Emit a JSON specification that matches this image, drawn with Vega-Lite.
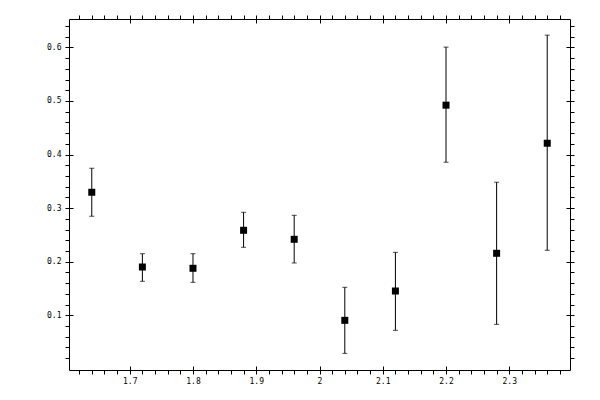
{
  "$schema": "https://vega.github.io/schema/vega-lite/v6.json",
  "autosize": {"type": "none"},
  "padding": {"left": 69, "top": 19, "right": 30, "bottom": 30},
  "width": 501,
  "height": 351,
  "background": "white",
  "config": {
    "view": {"stroke": null},
    "axis": {
      "grid": false,
      "title": null,
      "domainColor": "black",
      "domainWidth": 1,
      "tickColor": "black",
      "tickWidth": 1,
      "labelColor": "black",
      "labelFont": "DejaVu Sans Mono",
      "labelFontSize": 8,
      "labelFlush": false,
      "labelOverlap": false
    }
  },
  "data": {
    "values": [
      {"x": 1.64, "y": 0.3297, "lo": 0.2849, "hi": 0.3745},
      {"x": 1.72, "y": 0.1902, "lo": 0.1635, "hi": 0.2150},
      {"x": 1.80, "y": 0.1878, "lo": 0.1616, "hi": 0.2150},
      {"x": 1.88, "y": 0.2587, "lo": 0.2270, "hi": 0.2923},
      {"x": 1.96, "y": 0.2419, "lo": 0.1977, "hi": 0.2867},
      {"x": 2.04, "y": 0.0907, "lo": 0.0290, "hi": 0.1523},
      {"x": 2.12, "y": 0.1454, "lo": 0.0720, "hi": 0.2176},
      {"x": 2.20, "y": 0.4922, "lo": 0.3857, "hi": 0.6005},
      {"x": 2.28, "y": 0.2158, "lo": 0.0832, "hi": 0.3484},
      {"x": 2.36, "y": 0.4212, "lo": 0.2214, "hi": 0.6229}
    ]
  },
  "resolve": {"axis": {"x": "independent", "y": "independent"}},
  "layer": [
    {
      "mark": {"type": "rule", "color": "black", "strokeWidth": 1},
      "encoding": {
        "x": {"field": "x", "type": "quantitative",
          "scale": {"domain": [1.604, 2.396], "nice": false, "zero": false},
          "axis": {"orient": "bottom", "offset": -4, "tickSize": 8, "domain": false,
            "values": [1.7, 1.8, 1.9, 2.0, 2.1, 2.2, 2.3], "format": "~g", "labelPadding": 3}},
        "y": {"field": "lo", "type": "quantitative",
          "scale": {"domain": [-0.002, 0.653], "nice": false, "zero": false},
          "axis": {"orient": "left", "offset": -4, "tickSize": 8, "domain": false,
            "values": [0.1, 0.2, 0.3, 0.4, 0.5, 0.6], "format": "~g", "labelPadding": 4}},
        "y2": {"field": "hi"}
      }
    },
    {
      "mark": {"type": "tick", "orient": "horizontal", "color": "black", "size": 5, "thickness": 1},
      "encoding": {
        "x": {"field": "x", "type": "quantitative",
          "scale": {"domain": [1.604, 2.396], "nice": false, "zero": false},
          "axis": {"orient": "bottom", "tickSize": 4, "domain": true, "labels": false,
            "values": [1.62, 1.64, 1.66, 1.68, 1.72, 1.74, 1.76, 1.78, 1.82, 1.84, 1.86, 1.88, 1.92, 1.94, 1.96, 1.98, 2.02, 2.04, 2.06, 2.08, 2.12, 2.14, 2.16, 2.18, 2.22, 2.24, 2.26, 2.28, 2.32, 2.34, 2.36, 2.38]}},
        "y": {"field": "hi", "type": "quantitative",
          "scale": {"domain": [-0.002, 0.653], "nice": false, "zero": false},
          "axis": {"orient": "left", "tickSize": 4, "domain": true, "labels": false,
            "values": [0.02, 0.04, 0.06, 0.08, 0.12, 0.14, 0.16, 0.18, 0.22, 0.24, 0.26, 0.28, 0.32, 0.34, 0.36, 0.38, 0.42, 0.44, 0.46, 0.48, 0.52, 0.54, 0.56, 0.58, 0.62, 0.64]}}
      }
    },
    {
      "mark": {"type": "tick", "orient": "horizontal", "color": "black", "size": 5, "thickness": 1},
      "encoding": {
        "x": {"field": "x", "type": "quantitative",
          "scale": {"domain": [1.604, 2.396], "nice": false, "zero": false},
          "axis": {"orient": "top", "offset": -4, "tickSize": 8, "domain": false, "labels": false,
            "values": [1.7, 1.8, 1.9, 2.0, 2.1, 2.2, 2.3]}},
        "y": {"field": "lo", "type": "quantitative",
          "scale": {"domain": [-0.002, 0.653], "nice": false, "zero": false},
          "axis": {"orient": "right", "offset": -4, "tickSize": 8, "domain": false, "labels": false,
            "values": [0.1, 0.2, 0.3, 0.4, 0.5, 0.6]}}
      }
    },
    {
      "mark": {"type": "square", "color": "black", "filled": true, "opacity": 1, "size": 49},
      "encoding": {
        "x": {"field": "x", "type": "quantitative",
          "scale": {"domain": [1.604, 2.396], "nice": false, "zero": false},
          "axis": {"orient": "top", "tickSize": 4, "domain": true, "labels": false,
            "values": [1.62, 1.64, 1.66, 1.68, 1.72, 1.74, 1.76, 1.78, 1.82, 1.84, 1.86, 1.88, 1.92, 1.94, 1.96, 1.98, 2.02, 2.04, 2.06, 2.08, 2.12, 2.14, 2.16, 2.18, 2.22, 2.24, 2.26, 2.28, 2.32, 2.34, 2.36, 2.38]}},
        "y": {"field": "y", "type": "quantitative",
          "scale": {"domain": [-0.002, 0.653], "nice": false, "zero": false},
          "axis": {"orient": "right", "tickSize": 4, "domain": true, "labels": false,
            "values": [0.02, 0.04, 0.06, 0.08, 0.12, 0.14, 0.16, 0.18, 0.22, 0.24, 0.26, 0.28, 0.32, 0.34, 0.36, 0.38, 0.42, 0.44, 0.46, 0.48, 0.52, 0.54, 0.56, 0.58, 0.62, 0.64]}}
      }
    }
  ]
}
